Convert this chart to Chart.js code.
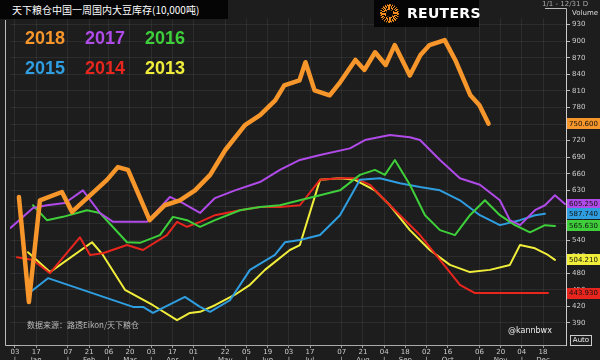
<!DOCTYPE html>
<html>
<head>
<meta charset="utf-8">
<script src="https://cdn.jsdelivr.net/npm/chart.js@4.4.0/dist/chart.umd.min.js"></script>
<style>
  html,body{margin:0;padding:0;background:#1d1d1d;}
  #wrap{position:relative;width:600px;height:360px;overflow:hidden;background:#1d1d1d;font-family:"Liberation Sans",Arial,sans-serif;}
  #c{position:absolute;left:0;top:0;}
  .ov{position:absolute;white-space:nowrap;pointer-events:none;}
  #title{left:0;top:0;width:228px;height:19px;background:#050505;color:#fff;font:10px "Noto Sans CJK SC",sans-serif;line-height:19px;padding-left:12px;box-sizing:border-box;}
  #reuters{left:374px;top:0;width:105px;height:27px;background:#050505;}
  #logo{position:absolute;left:6px;top:4px;width:19px;height:19px;border-radius:50%;
        background:repeating-conic-gradient(#f08a1c 0deg 8deg,#050505 8deg 15deg);}
  #logo:after{content:"";position:absolute;left:6px;top:6px;width:7px;height:7px;border-radius:50%;background:#050505;}
  #rtxt{position:absolute;left:33px;top:5px;color:#fff;font:bold 14px "DejaVu Sans",sans-serif;letter-spacing:0.3px;}
  .yr{font:bold 18px "Liberation Sans",Arial,sans-serif;}
  #range{left:542px;top:0px;color:#aaa;font:7px "DejaVu Sans",sans-serif;}
  #vol{left:572px;top:9px;color:#ddd;font:7px "DejaVu Sans",sans-serif;}
  #src{left:27px;top:319px;color:#bbb;font:8px "Noto Sans CJK SC",sans-serif;}
  #handle{left:508px;top:326px;color:#eee;font:8px "DejaVu Sans",sans-serif;}
  #auto{left:570px;top:335px;width:20px;height:9px;border:1px solid #ccc;color:#eee;font:7px "DejaVu Sans",sans-serif;line-height:9px;text-align:center;}
</style>
</head>
<body>
<div id="wrap">
  <canvas id="c" width="600" height="360"></canvas>
  <div class="ov" id="title">天下粮仓中国一周国内大豆库存(10,000吨)</div>
  <div class="ov" id="reuters"><div id="logo"></div><div id="rtxt">REUTERS</div></div>
  <div class="ov" id="range">1/1 - 12/31 D</div>
  <div class="ov" id="vol">Volume</div>
  <div class="ov yr" style="left:25px;top:28px;color:#f7962a">2018</div>
  <div class="ov yr" style="left:85px;top:28px;color:#b04ae8">2017</div>
  <div class="ov yr" style="left:145px;top:28px;color:#3ecf3a">2016</div>
  <div class="ov yr" style="left:25px;top:58px;color:#2f9ee0">2015</div>
  <div class="ov yr" style="left:85px;top:58px;color:#e8261e">2014</div>
  <div class="ov yr" style="left:145px;top:58px;color:#f0ee3a">2013</div>
  <div class="ov" id="src">数据来源：路透Eikon/天下粮仓</div>
  <div class="ov" id="handle">@kannbwx</div>
  <div class="ov" id="auto">Auto</div>
</div>
<script>
// ---- data (x = day of year, y = 10,000 tonnes) ----
const seriesNames = ["2018","2017","2016","2015","2014","2013"];
const seriesColors = ["#f7962a","#b04ae8","#3ecf3a","#2f9ee0","#e8261e","#f0ee3a"];

const days2018 = [4.6,11.2,18.5,33,39.7,62.8,70,76.7,91,101,111,121,131,141,154,164,174,180,190,194,200,210,217,227,233,240,247,253,263,270,276,286,293,303,309,315];
const vals2018 = [618,428,612,627,591,649,672,667,576,603,612,630,658,703,748,766,793,820,829,862,811,802,826,866,848,880,857,893,838,875,893,902,866,802,784,750.6];

const days2017 = [-1,13.9,23.1,35,46.9,58.2,66.8,89.2,104.4,113,124.3,134.2,147.4,163.9,177.1,190.3,203.6,223.4,233.3,249.8,263,269.7,282.9,296.1,309.3,322.5,329.1,335.8,345.7,352.3,358.9,365.5];
const vals2017 = [562,598,603,607,630,589,573,573,618,607,589,616,630,645,667,685,694,706,721,730,726,721,685,652,640,612,576,567,594,603,621,605.25];

const days2016 = [13.9,23.1,33.7,49.6,58.2,76,84.6,97.8,106.4,115.7,124.3,134.2,150.7,163.9,177.1,190.3,203.6,216.8,230,239.9,246.5,253.1,263,273,282.9,292.8,302.7,312.6,322.5,332.5,342.4,352.3,358.9];
const vals2016 = [603,576,582,594,589,536,535,549,582,576,564,576,594,600,603,612,621,630,658,667,658,685,640,585,558,549,585,612,585,567,554,567,565.63];

const days2015 = [9.9,23.8,80,86.6,93.2,114.3,124.3,130.9,144.1,157.3,173.8,180.4,190.3,203.6,216.8,230,243.2,256.4,269.7,282.9,296.1,309.3,322.5,335.8,345.7,352.3];
const vals2015 = [441,471,419,419,408,437,419,410,431,486,513,536,540,549,585,649,652,643,636,630,612,585,567,576,585,587.74];

const days2014 = [3.3,13.9,25.1,44.9,51.6,60.1,76,86.6,102.4,109.1,115.7,124.3,134.2,150.7,163.9,177.1,190.3,203.6,216.8,226.7,236.6,246.5,256.4,269.7,282.9,296.1,306,354.3];
const vals2014 = [509,504,480,545,513,516,531,522,549,573,564,573,585,594,600,600,603,649,652,652,640,612,585,549,504,459,444,443.93];

const days2013 = [10.6,25.1,52.9,60.1,74.7,93.2,109.1,117.6,124.3,134.2,147.4,157.3,167.2,183.7,190.3,203.6,216.8,226.7,239.9,249.8,263,276.2,289.5,302.7,315.9,329.1,335.8,345.7,354.3,358.9];
const vals2013 = [518,482,536,513,450,422,395,408,410,422,441,459,486,522,531,649,652,649,630,603,558,522,495,482,486,495,531,525,513,504.21];

const tickDays  = [2,16,37,51,64,78,92,106,120,141,155,169,183,197,218,232,246,260,274,288,309,323,337,351];
const tickDayLabels = ["03","17","07","21","06","20","03","17","01","22","05","19","03","17","07","21","04","18","02","16","06","20","04","18"];
const tickMonthLabels = ["|","Jan","|","Feb","|","Mar","|","Apr","|","May","|","Jun","|","Jul","|","Aug","|","Sep","|","Oct","|","Nov","|","Dec"];
const yTicks = [390,420,450,480,510,540,570,600,630,660,690,720,750,780,810,840,870,900,930];

// ---- build ----
const allDays = [days2018,days2017,days2016,days2015,days2014,days2013];
const allVals = [vals2018,vals2017,vals2016,vals2015,vals2014,vals2013];
const datasets = seriesNames.map((n,i)=>({
  label:n,
  data: allDays[i].map((d,k)=>({x:d,y:allVals[i][k]})),
  borderColor: seriesColors[i],
  borderWidth: i===0?4.5:2,
  pointRadius:0,
  tension:0,
  fill:false,
  borderJoinStyle:'round',
  borderCapStyle:'round'
}));

const lastLabelPlugin = {
  id:'lastLabels',
  afterDraw(chart){
    const ctx = chart.ctx, ys = chart.scales.y;
    ctx.save();
    ctx.font = '7px "DejaVu Sans", sans-serif';
    ctx.textBaseline = 'middle';
    datasets.forEach((ds,i)=>{
      const v = ds.data[ds.data.length-1].y;
      const py = ys.getPixelForValue(v);
      ctx.fillStyle = ds.borderColor;
      ctx.fillRect(567, Math.round(py-5.5), 33, 11);
      ctx.fillStyle = '#111';
      ctx.fillText(v.toFixed(3), 569, py+0.5);
    });
    // left border and brackets
    ctx.strokeStyle = '#bbb'; ctx.lineWidth = 1;
    ctx.beginPath(); ctx.moveTo(5.5,20); ctx.lineTo(5.5,345.5); ctx.lineTo(20,345.5); ctx.stroke();
    ctx.beginPath(); ctx.moveTo(545,8.5); ctx.lineTo(566.5,8.5); ctx.lineTo(566.5,18); ctx.stroke();
    ctx.restore();
  }
};

new Chart(document.getElementById('c'),{
  type:'line',
  data:{datasets},
  options:{
    responsive:false,
    animation:false,
    events:[],
    layout:{padding:{top:18,left:10,right:0,bottom:0}},
    plugins:{legend:{display:false},tooltip:{enabled:false}},
    scales:{
      x:{
        type:'linear', min:-1.3, max:366.2,
        afterBuildTicks(s){ s.ticks = tickDays.map(v=>({value:v})); },
        afterFit(s){ s.height = 15; },
        ticks:{
          autoSkip:false, maxRotation:0, padding:0,
          color:'#ccc', font:{size:7,family:'"DejaVu Sans", sans-serif',lineHeight:1.15},
          callback(v){ const k = tickDays.indexOf(v); return k<0?'':[tickDayLabels[k],tickMonthLabels[k]]; }
        },
        grid:{color:'rgba(255,255,255,0.07)',tickColor:'#999',tickLength:3},
        border:{color:'#aaa'}
      },
      y:{
        position:'right', min:350, max:942,
        afterBuildTicks(s){ s.ticks = yTicks.map(v=>({value:v})); },
        afterFit(s){ s.width = 34; },
        ticks:{color:'#ccc',padding:2,font:{size:7,family:'"DejaVu Sans", sans-serif'}},
        grid:{color:'rgba(255,255,255,0.07)',tickColor:'#bbb',tickLength:4},
        border:{color:'#ccc'}
      }
    }
  },
  plugins:[lastLabelPlugin]
});
</script>
</body>
</html>
